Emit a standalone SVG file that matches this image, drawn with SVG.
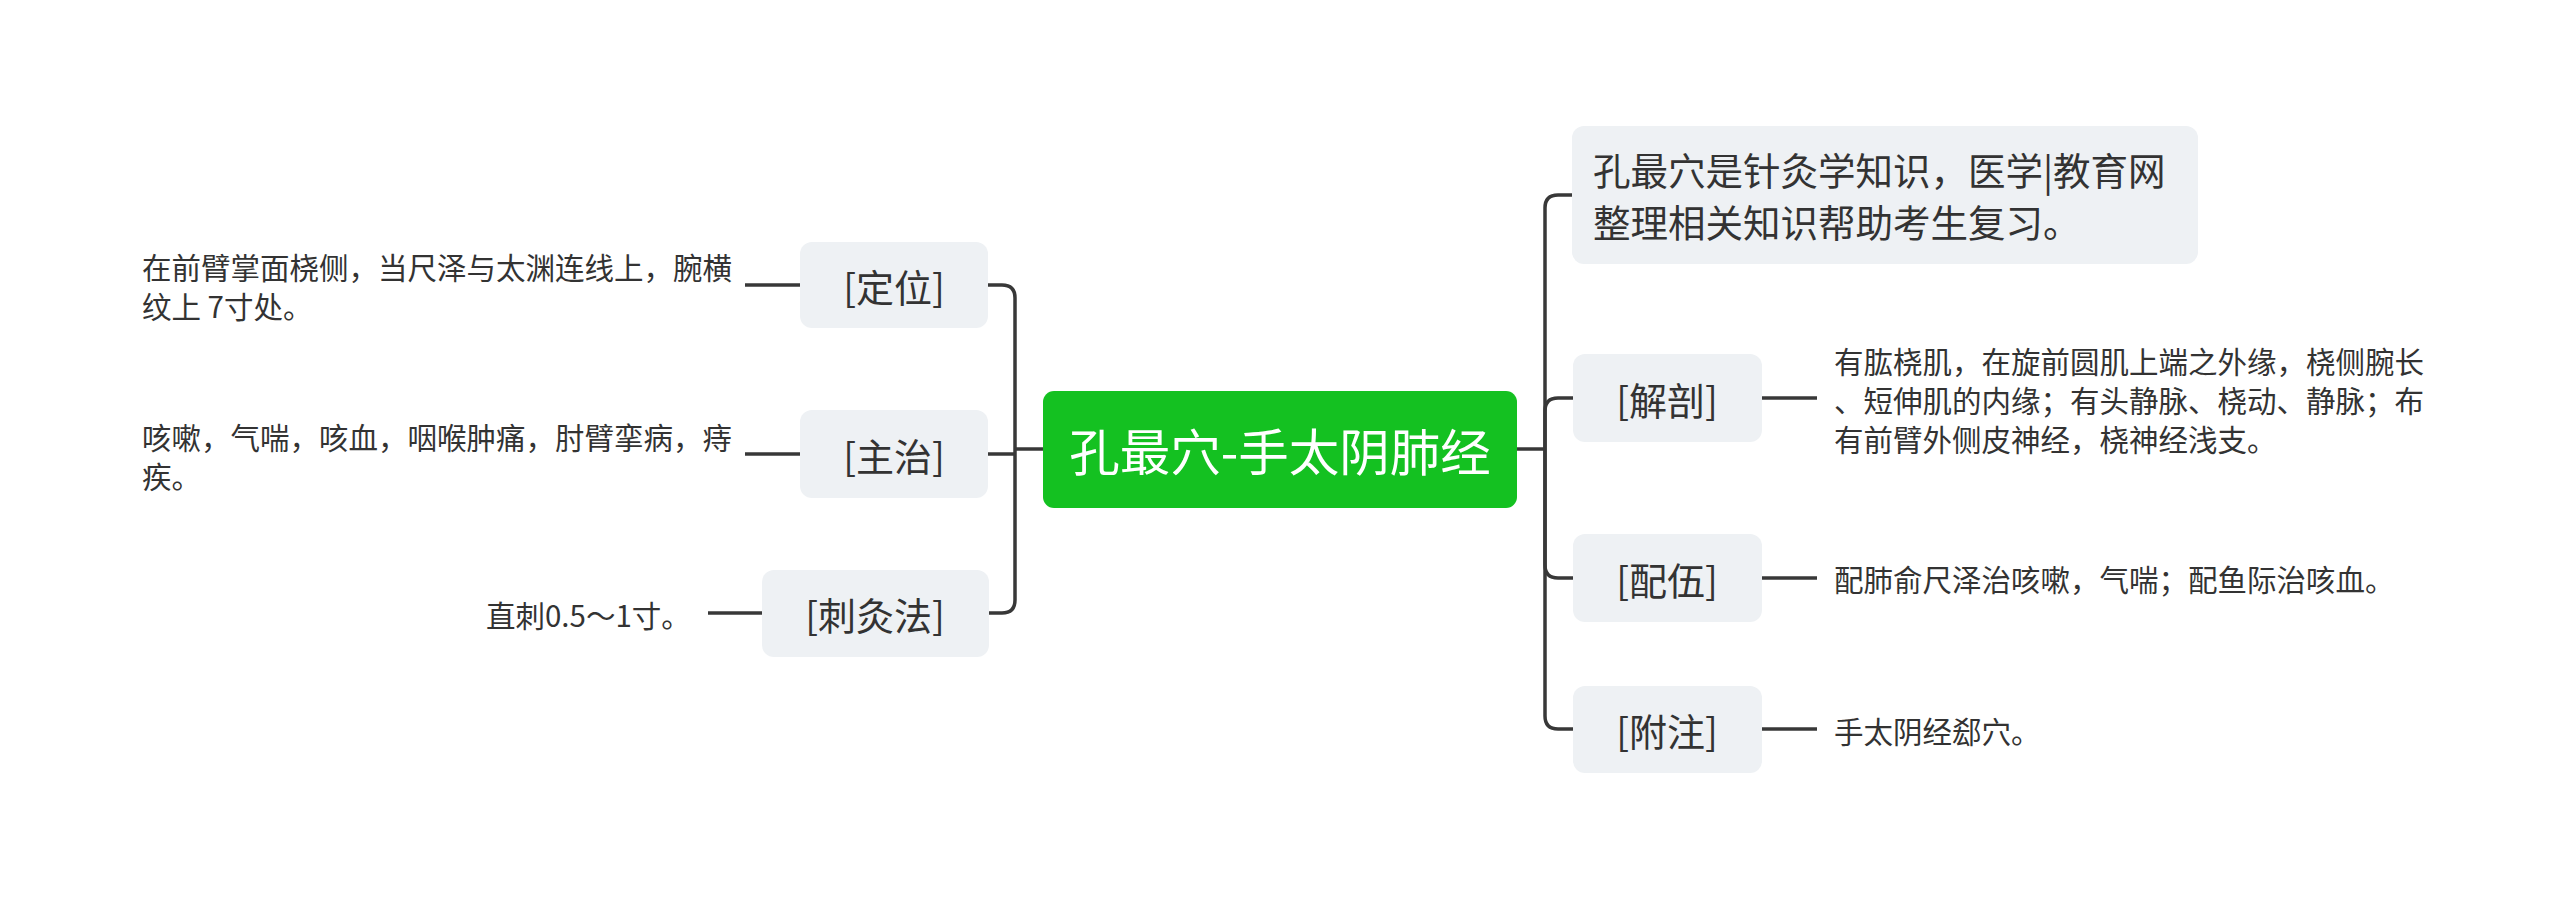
<svg xmlns="http://www.w3.org/2000/svg" width="2560" height="899" viewBox="0 0 2560 899">
<style>
text{font-family:"Noto Sans CJK SC","Noto Sans",sans-serif;fill:#333333;dominant-baseline:central}
.box{fill:#EEF1F4}
.lbl{font-size:38px;text-anchor:middle}
.det{font-size:29.5px}
.con{fill:none;stroke:#383838;stroke-width:3.5;stroke-linecap:butt}
</style>
<rect width="2560" height="899" fill="#ffffff"/>
<g id="connectors" class="con">
<path d="M1043,449 H1015"/>
<path d="M1015,449 V298 Q1015,285 1002,285 H988"/>
<path d="M1015,454 H988"/>
<path d="M1015,449 V600 Q1015,613 1002,613 H989"/>
<path d="M1517,449 H1545"/>
<path d="M1545,449 V208 Q1545,195 1558,195 H1573"/>
<path d="M1545,449 V411 Q1545,398 1558,398 H1573"/>
<path d="M1545,449 V565 Q1545,578 1558,578 H1573"/>
<path d="M1545,449 V716 Q1545,729 1558,729 H1573"/>
<path d="M745,285 H800"/>
<path d="M745,454 H800"/>
<path d="M708,613 H762"/>
<path d="M1762,398 H1817"/>
<path d="M1762,578 H1817"/>
<path d="M1762,729 H1817"/>
</g>
<g id="root">
<rect x="1043" y="391" width="474" height="117" rx="11" fill="#14C121"/>
<text x="1280" y="449" style="font-size:50.5px;fill:#ffffff;text-anchor:middle">孔最穴-手太阴肺经</text>
</g>
<g id="intro">
<rect class="box" x="1572" y="126" width="626" height="138" rx="12"/>
<text x="1593" y="168" style="font-size:37.5px">孔最穴是针灸学知识，医学|教育网</text>
<text x="1593" y="220" style="font-size:37.5px">整理相关知识帮助考生复习。</text>
</g>
<g id="jiepou">
<rect class="box" x="1573" y="354" width="189" height="88" rx="12"/>
<text class="lbl" x="1667" y="398">[解剖]</text>
<text class="det" x="1834" y="360">有肱桡肌，在旋前圆肌上端之外缘，桡侧腕长</text>
<text class="det" x="1834" y="399">、短伸肌的内缘；有头静脉、桡动、静脉；布</text>
<text class="det" x="1834" y="438">有前臂外侧皮神经，桡神经浅支。</text>
</g>
<g id="peiwu">
<rect class="box" x="1573" y="534" width="189" height="88" rx="12"/>
<text class="lbl" x="1667" y="578">[配伍]</text>
<text class="det" x="1834" y="578">配肺俞尺泽治咳嗽，气喘；配鱼际治咳血。</text>
</g>
<g id="fuzhu">
<rect class="box" x="1573" y="686" width="189" height="87" rx="12"/>
<text class="lbl" x="1667" y="729">[附注]</text>
<text class="det" x="1834" y="730">手太阴经郄穴。</text>
</g>
<g id="dingwei">
<rect class="box" x="800" y="242" width="188" height="86" rx="12"/>
<text class="lbl" x="894" y="285">[定位]</text>
<text class="det" x="142" y="266">在前臂掌面桡侧，当尺泽与太渊连线上，腕横</text>
<text class="det" x="142" y="305">纹上 7寸处。</text>
</g>
<g id="zhuzhi">
<rect class="box" x="800" y="410" width="188" height="88" rx="12"/>
<text class="lbl" x="894" y="454">[主治]</text>
<text class="det" x="142" y="436">咳嗽，气喘，咳血，咽喉肿痛，肘臂挛病，痔</text>
<text class="det" x="142" y="475">疾。</text>
</g>
<g id="cijiufa">
<rect class="box" x="762" y="570" width="227" height="87" rx="12"/>
<text class="lbl" x="875" y="613">[刺灸法]</text>
<text class="det" x="486" y="614">直刺0.5～1寸。</text>
</g>
</svg>
